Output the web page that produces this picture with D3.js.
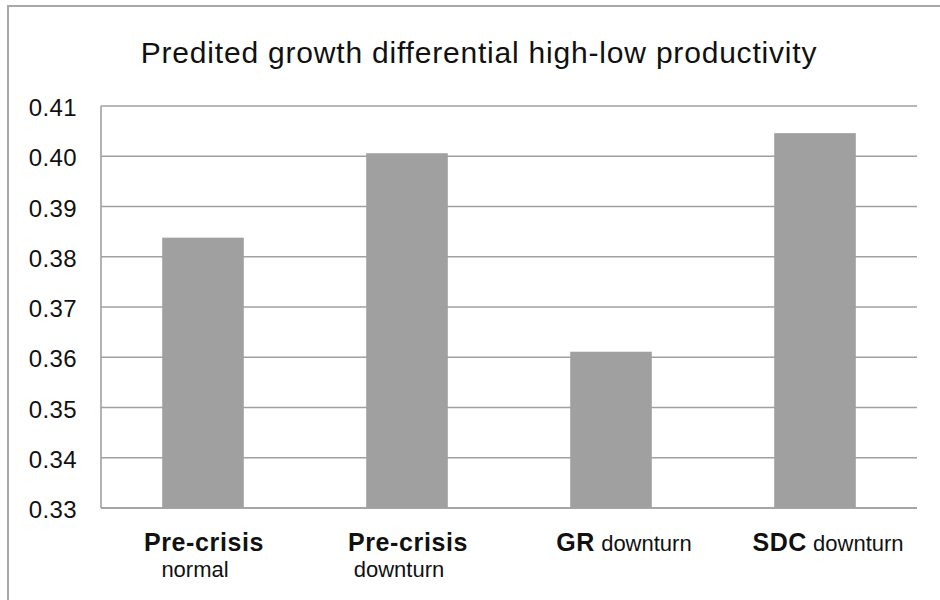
<!DOCTYPE html>
<html>
<head>
<meta charset="utf-8">
<script src="https://cdn.jsdelivr.net/npm/d3@7"></script>
<style>
  body { margin: 0; background: #fff; }
  text { font-family: "Liberation Sans", Arial, sans-serif; fill: #111; }
</style>
</head>
<body>
<svg id="chart"></svg>
<script>
// data
var categories = ["Pre-crisis normal", "Pre-crisis downturn", "GR downturn", "SDC downturn"];
var boldLabels = ["Pre-crisis", "Pre-crisis", "GR", "SDC"];
var plainLabels = ["normal", "downturn", "downturn", "downturn"];
var values = [0.3838, 0.4006, 0.3611, 0.4046];
var yTicks = [0.33, 0.34, 0.35, 0.36, 0.37, 0.38, 0.39, 0.40, 0.41];
var title = "Predited growth differential high-low productivity";

var width = 940, height = 600;
var margin = { top: 106, right: 23, bottom: 92, left: 101 };

var svg = d3.select("#chart")
  .attr("width", width)
  .attr("height", height);

// outer frame (only top/left visible in the reference)
svg.append("rect")
  .attr("x", 8).attr("y", 6)
  .attr("width", width + 20).attr("height", height + 20)
  .attr("fill", "none")
  .attr("stroke", "#a8a8a8")
  .attr("stroke-width", 2);

var x = d3.scaleBand()
  .domain(categories)
  .range([margin.left, width - margin.right])
  .paddingInner(0.6)
  .paddingOuter(0.3);

var y = d3.scaleLinear()
  .domain([0.33, 0.41])
  .range([height - margin.bottom, margin.top]);

// gridlines
svg.append("g")
  .selectAll("line")
  .data(yTicks)
  .join("line")
  .attr("x1", margin.left)
  .attr("x2", width - margin.right)
  .attr("y1", d => y(d))
  .attr("y2", d => y(d))
  .attr("stroke", "#a0a0a0")
  .attr("stroke-width", 1.6);

// left axis line
svg.append("line")
  .attr("x1", margin.left).attr("x2", margin.left)
  .attr("y1", y(0.41)).attr("y2", y(0.33))
  .attr("stroke", "#a0a0a0")
  .attr("stroke-width", 1.6);

// y tick labels
svg.append("g")
  .selectAll("text")
  .data(yTicks)
  .join("text")
  .attr("x", 77)
  .attr("y", d => y(d) + 10)
  .attr("text-anchor", "end")
  .style("font-size", "24px")
  .style("letter-spacing", "0.4px")
  .text(d => d3.format(".2f")(d));

// bars
svg.append("g")
  .selectAll("rect")
  .data(values)
  .join("rect")
  .attr("x", (d, i) => x(categories[i]))
  .attr("y", d => y(d))
  .attr("width", x.bandwidth())
  .attr("height", d => y(0.33) - y(d))
  .attr("fill", "#a0a0a0");

// redraw baseline on top of bars
svg.append("line")
  .attr("x1", margin.left).attr("x2", width - margin.right)
  .attr("y1", y(0.33)).attr("y2", y(0.33))
  .attr("stroke", "#a0a0a0")
  .attr("stroke-width", 1.6);

// x labels
var xl = svg.append("g");
categories.forEach(function (c, i) {
  var cx = x(c) + x.bandwidth() / 2;
  if (i < 2) {
    xl.append("text")
      .attr("x", cx + 1).attr("y", 551)
      .attr("text-anchor", "middle")
      .style("font-size", "25px")
      .style("font-weight", "bold")
      .style("letter-spacing", "0.6px")
      .text(boldLabels[i]);
    xl.append("text")
      .attr("x", cx - 8).attr("y", 577)
      .attr("text-anchor", "middle")
      .style("font-size", "22px")
      .text(plainLabels[i]);
  } else {
    var t = xl.append("text")
      .attr("x", cx + 13).attr("y", 551)
      .attr("text-anchor", "middle");
    t.append("tspan")
      .style("font-size", "25px")
      .style("font-weight", "bold")
      .style("letter-spacing", "0.6px")
      .text(boldLabels[i]);
    t.append("tspan")
      .style("font-size", "22px")
      .text(" " + plainLabels[i]);
  }
});

// title
svg.append("text")
  .attr("x", 479)
  .attr("y", 63)
  .attr("text-anchor", "middle")
  .style("font-size", "30px")
  .style("letter-spacing", "0.8px")
  .text(title);
</script>
</body>
</html>
